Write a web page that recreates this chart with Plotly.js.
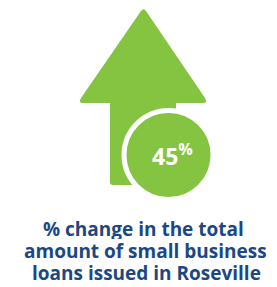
<!DOCTYPE html>
<html><head><meta charset="utf-8">
<script src="https://cdn.plot.ly/plotly-3.0.1.min.js"></script>
<style>html,body{margin:0;padding:0;background:#fff}#c{width:277px;height:287px}</style>
</head><body><div id="c"></div>
<script>
const values = [45];
const valueLabels = ["45<sup>%</sup>"];
const captionLines = ["% change in the total", "amount of small business", "loans issued in Roseville"];

const green = "#84c441";
const blue = "#1b4784";

const arrowPath = "M 110,182 Q 110,185 113,185 L 176,185 L 176,103 L 203,103 Q 208,103 205,98 L 146,11 Q 143.5,7.5 141,11 L 81,98 Q 78,103 83,103 L 110,103 Z";

const data = [{
  type: "scatter", mode: "markers",
  x: [168.5], y: [155],
  marker: {size: 89, color: green, line: {color: "#ffffff", width: 5}},
  customdata: values, hoverinfo: "skip"
}];

const annotations = [{
  x: 172.5, y: 155, xref: "x", yref: "y", text: valueLabels[0], showarrow: false,
  font: {family: "Open Sans", size: 23, color: "#ffffff", weight: 700}
}];
const lineY = [229, 251, 273];
const lineX = [143, 145, 146];
captionLines.forEach((t, i) => annotations.push({
  x: lineX[i], y: lineY[i], xref: "x", yref: "y", text: t, showarrow: false,
  xanchor: "center", yanchor: "middle", height: 20,
  font: {family: "Open Sans", size: 19, color: blue, weight: 700}
}));

const layout = {
  width: 277, height: 287, margin: {l: 0, r: 0, t: 0, b: 0},
  paper_bgcolor: "#fff", plot_bgcolor: "#fff", showlegend: false,
  xaxis: {range: [0, 277], visible: false, fixedrange: true},
  yaxis: {range: [287, 0], visible: false, fixedrange: true},
  shapes: [{type: "path", xref: "x", yref: "y", path: arrowPath, fillcolor: green, line: {width: 0}, layer: "below"}],
  annotations: annotations
};
Plotly.newPlot("c", data, layout, {displayModeBar: false, staticPlot: true});
</script></body></html>
